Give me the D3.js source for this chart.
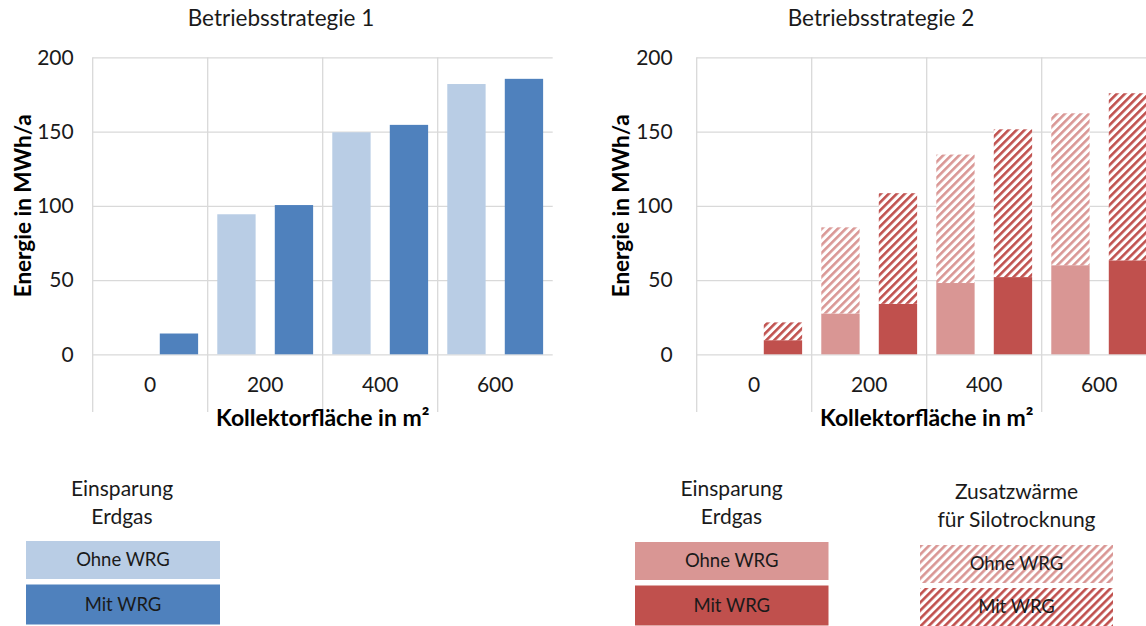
<!DOCTYPE html>
<html>
<head>
<meta charset="utf-8">
<script src="https://cdn.jsdelivr.net/npm/d3@7"></script>
<style>
  html, body { margin: 0; padding: 0; background: #fff; }
  svg { display: block; font-family: Lato, "Open Sans", sans-serif; }
</style>
</head>
<body>
<svg id="chart" width="1146" height="626"></svg>
<script>
// Kollektorfläche categories (m²)
const categories = ["0", "200", "400", "600"];
const yTicks = [0, 50, 100, 150, 200];

// Betriebsstrategie 1: Einsparung Erdgas (MWh/a)
const s1Ohne = [0, 94.3, 149.5, 182];
const s1Mit = [14, 100.5, 154.5, 185.5];

// Betriebsstrategie 2: Einsparung Erdgas + Zusatzwärme für Silotrocknung (MWh/a)
const s2OhneErdgas = [0, 27.5, 48, 60];
const s2OhneZusatz = [0, 58, 86.5, 102.3];
const s2MitErdgas = [9.5, 34, 52, 63.3];
const s2MitZusatz = [12, 74.5, 99.5, 112.5];

const series = ["Ohne WRG", "Mit WRG"];

const colors = {
  blueLight: "#b9cde5",
  blueDark: "#4f81bd",
  redLight: "#d99694",
  redDark: "#c0504d",
  grid: "#d9d9d9",
  text: "#1a1a1a"
};

const svg = d3.select("#chart");

// Diagonal hatch patterns for the Zusatzwärme segments
const defs = svg.append("defs");
function hatch(id, color) {
  const p = defs.append("pattern")
    .attr("id", id)
    .attr("patternUnits", "userSpaceOnUse")
    .attr("width", 5.66)
    .attr("height", 5.66)
    .attr("patternTransform", "rotate(45)");
  p.append("rect").attr("width", 5.66).attr("height", 5.66).attr("fill", "#fff");
  p.append("rect").attr("x", 0).attr("width", 2.6).attr("height", 5.66).attr("fill", color);
}
hatch("hatchLight", colors.redLight);
hatch("hatchDark", colors.redDark);

const plotTop = 57.3, plotBottom = 354.3, sepBottom = 412;

function drawPanel(opts) {
  const g = svg.append("g");
  const x = d3.scaleBand().domain(categories).range([opts.left, opts.left + 460]).paddingInner(0).paddingOuter(0);
  const xs = d3.scaleBand().domain(series).range([0, x.bandwidth()]).paddingInner(1 / 3).paddingOuter(1 / 6);
  const y = d3.scaleLinear().domain([0, 200]).range([plotBottom, plotTop]);

  // horizontal gridlines + tick labels
  const yAxis = g.append("g")
    .attr("transform", `translate(${opts.left},0)`)
    .call(d3.axisLeft(y).tickValues(yTicks).tickSize(-460).tickPadding(opts.tickPad).tickFormat(d3.format("d")));
  yAxis.select(".domain").remove();
  yAxis.selectAll(".tick line").attr("stroke", colors.grid).attr("stroke-width", 1.3);
  yAxis.selectAll(".tick text")
    .attr("fill", colors.text)
    .attr("font-size", 21)
    .attr("font-family", "Lato, sans-serif");

  // vertical category separators (left axis line + boundaries)
  const seps = [opts.left].concat(categories.slice(1).map(c => x(c)));
  g.selectAll("line.sep").data(seps).join("line")
    .attr("class", "sep")
    .attr("x1", d => d).attr("x2", d => d)
    .attr("y1", plotTop).attr("y2", sepBottom)
    .attr("stroke", colors.grid).attr("stroke-width", 1.3);

  // bars
  const bars = g.append("g");
  opts.stacks.forEach(s => {
    categories.forEach((c, i) => {
      let base = 0;
      s.layers.forEach(layer => {
        const v = layer.values[i];
        if (v > 0) {
          bars.append("rect")
            .attr("x", x(c) + xs(s.key))
            .attr("width", xs.bandwidth())
            .attr("y", y(base + v))
            .attr("height", y(base) - y(base + v))
            .attr("fill", layer.fill);
        }
        base += v;
      });
    });
  });

  // category labels
  g.selectAll("text.cat").data(categories).join("text")
    .attr("class", "cat")
    .attr("x", d => x(d) + x.bandwidth() / 2)
    .attr("y", 385)
    .attr("dy", "0.35em")
    .attr("text-anchor", "middle")
    .attr("font-size", 21)
    .attr("fill", colors.text)
    .text(d => d);

  // axis titles
  g.append("text")
    .attr("x", opts.left + 230)
    .attr("y", 418)
    .attr("dy", "0.35em")
    .attr("text-anchor", "middle")
    .attr("font-size", 23)
    .attr("font-weight", "bold")
    .attr("fill", "#000")
    .text("Kollektorfläche in m²");

  g.append("text")
    .attr("transform", `translate(${opts.yTitleX},${(plotTop + plotBottom) / 2}) rotate(-90)`)
    .attr("dy", "0.35em")
    .attr("text-anchor", "middle")
    .attr("font-size", 22.5)
    .attr("font-weight", "bold")
    .attr("fill", "#000")
    .text("Energie in MWh/a");

  // chart title
  g.append("text")
    .attr("x", opts.titleX)
    .attr("y", 18)
    .attr("dy", "0.35em")
    .attr("text-anchor", "middle")
    .attr("font-size", 22.5)
    .attr("fill", colors.text)
    .text(opts.title);
}

drawPanel({
  left: 92.7,
  tickPad: 19,
  yTitleX: 23,
  titleX: 281,
  title: "Betriebsstrategie 1",
  stacks: [
    { key: "Ohne WRG", layers: [{ values: s1Ohne, fill: colors.blueLight }] },
    { key: "Mit WRG", layers: [{ values: s1Mit, fill: colors.blueDark }] }
  ]
});

drawPanel({
  left: 696.7,
  tickPad: 24,
  yTitleX: 621,
  titleX: 881,
  title: "Betriebsstrategie 2",
  stacks: [
    { key: "Ohne WRG", layers: [
      { values: s2OhneErdgas, fill: colors.redLight },
      { values: s2OhneZusatz, fill: "url(#hatchLight)" }
    ] },
    { key: "Mit WRG", layers: [
      { values: s2MitErdgas, fill: colors.redDark },
      { values: s2MitZusatz, fill: "url(#hatchDark)" }
    ] }
  ]
});

// legends
function legendBlock(cx, titleLines, titleY, boxes) {
  const g = svg.append("g");
  titleLines.forEach((t, i) => {
    g.append("text")
      .attr("x", cx).attr("y", titleY + i * 28)
      .attr("dy", "0.35em")
      .attr("text-anchor", "middle")
      .attr("font-size", 21)
      .attr("fill", colors.text)
      .text(t);
  });
  boxes.forEach(b => {
    g.append("rect")
      .attr("x", b.x).attr("y", b.y)
      .attr("width", b.w).attr("height", b.h)
      .attr("fill", b.fill);
    g.append("text")
      .attr("x", b.x + b.w / 2).attr("y", b.y + b.h / 2)
      .attr("dy", "0.35em")
      .attr("text-anchor", "middle")
      .attr("font-size", 18.5)
      .attr("fill", colors.text)
      .text(b.label);
  });
}

legendBlock(122, ["Einsparung", "Erdgas"], 489, [
  { x: 26, y: 541, w: 194, h: 38, fill: colors.blueLight, label: series[0] },
  { x: 26, y: 584.5, w: 194, h: 40, fill: colors.blueDark, label: series[1] }
]);

legendBlock(731.5, ["Einsparung", "Erdgas"], 489, [
  { x: 635, y: 542, w: 193.5, h: 38, fill: colors.redLight, label: series[0] },
  { x: 635, y: 585.5, w: 193.5, h: 40, fill: colors.redDark, label: series[1] }
]);

legendBlock(1016.5, ["Zusatzwärme", "für Silotrocknung"], 492, [
  { x: 920, y: 545, w: 193, h: 38, fill: "url(#hatchLight)", label: series[0] },
  { x: 920, y: 588, w: 193, h: 38, fill: "url(#hatchDark)", label: series[1] }
]);
</script>
</body>
</html>
